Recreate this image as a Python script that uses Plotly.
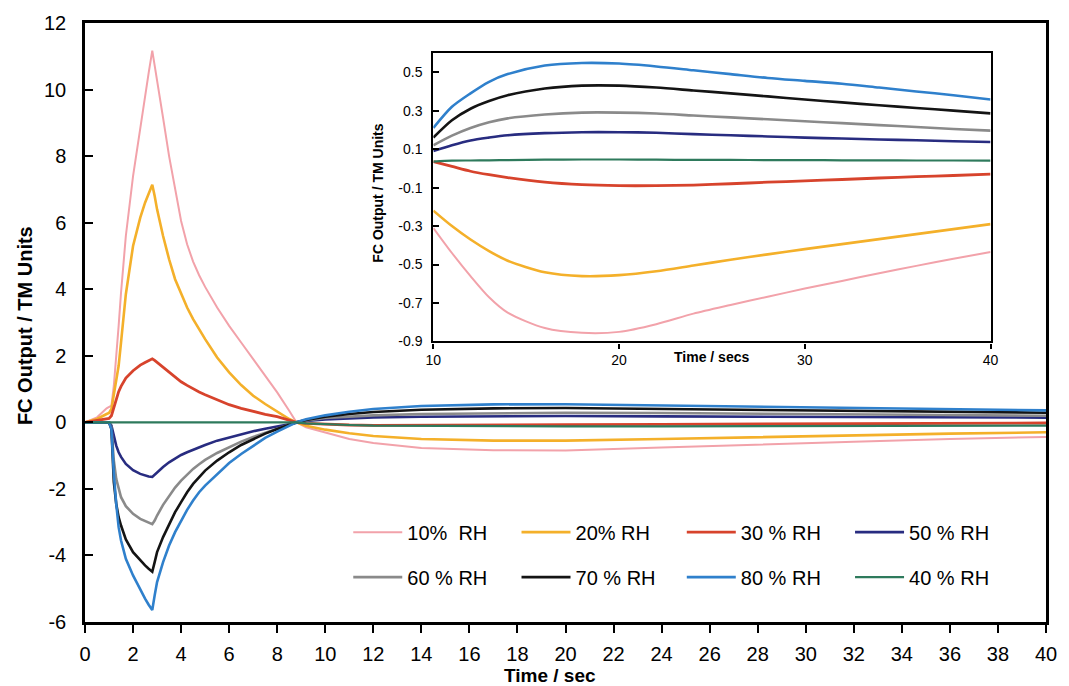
import plotly.graph_objects as go

# ---------------- data ----------------
# main panel: fuel-cell response over the first 40 s
t_main = [0, 0.5, 0.9, 1.0, 1.1, 1.2, 1.3, 1.4, 1.5, 1.7, 2.0, 2.3, 2.5, 2.65,
          2.8, 2.9, 3.0, 3.25, 3.5, 3.75, 4.0, 4.25, 4.5, 4.75, 5.0, 5.5, 6.0, 6.5,
          7.0, 7.5, 8.0, 8.5, 8.8, 9.2, 10, 11, 12, 14, 17, 20, 24, 28, 32, 36, 40]

rh10 = [0, 0.15, 0.42, 0.45, 0.5, 1.1, 1.9, 2.9, 3.9, 5.6, 7.4, 8.9, 9.8, 10.5,
        11.17, 10.75, 10.3, 9.15, 8.0, 7.0, 6.05, 5.35, 4.83, 4.42, 4.07, 3.45, 2.9, 2.4,
        1.9, 1.4, 0.9, 0.35, 0.0, -0.15, -0.31, -0.5, -0.62, -0.77, -0.84, -0.85, -0.76,
        -0.66, -0.58, -0.5, -0.44]
rh20 = [0, 0.1, 0.25, 0.28, 0.4, 0.8, 1.3, 1.7, 2.4, 3.85, 5.3, 6.15, 6.6, 6.88,
        7.14, 6.8, 6.4, 5.6, 4.9, 4.3, 3.85, 3.45, 3.1, 2.78, 2.5, 1.95, 1.5, 1.12,
        0.8, 0.55, 0.32, 0.1, 0.0, -0.1, -0.22, -0.33, -0.41, -0.5, -0.55, -0.55, -0.5,
        -0.44, -0.39, -0.34, -0.3]
rh30 = [0, 0.05, 0.1, 0.12, 0.2, 0.45, 0.7, 0.92, 1.08, 1.33, 1.55, 1.72, 1.8, 1.86,
        1.91, 1.86, 1.8, 1.64, 1.5, 1.35, 1.22, 1.11, 1.0, 0.91, 0.83, 0.67, 0.53, 0.42,
        0.32, 0.24, 0.17, 0.07, 0.0, -0.03, -0.06, -0.08, -0.09, -0.09, -0.08, -0.07, -0.06,
        -0.05, -0.04, -0.03, -0.02]
rh40 = [0, 0, 0, 0, 0, 0, 0, 0, 0, 0, 0, 0, 0, 0,
        0, 0, 0, 0, 0, 0, 0, 0, 0, 0, 0, 0, 0, 0,
        0, 0, 0, 0, 0, -0.03, -0.06, -0.08, -0.1, -0.11, -0.12, -0.12, -0.12,
        -0.12, -0.11, -0.11, -0.1]
rh50 = [0, 0, 0, 0, -0.1, -0.4, -0.7, -0.9, -1.04, -1.25, -1.44, -1.55, -1.6, -1.63,
        -1.64, -1.57, -1.5, -1.34, -1.2, -1.08, -0.98, -0.9, -0.82, -0.75, -0.68, -0.55, -0.45, -0.35,
        -0.27, -0.19, -0.12, -0.04, 0.0, 0.04, 0.09, 0.13, 0.15, 0.17, 0.19, 0.19, 0.18,
        0.17, 0.16, 0.15, 0.14]
rh60 = [0, 0, 0, 0, -0.15, -1.15, -1.7, -2.0, -2.25, -2.52, -2.75, -2.9, -2.97, -3.02,
        -3.06, -2.95, -2.8, -2.48, -2.2, -1.96, -1.75, -1.56, -1.4, -1.26, -1.13, -0.92, -0.74, -0.58,
        -0.44, -0.31, -0.19, -0.07, 0.0, 0.06, 0.13, 0.18, 0.21, 0.25, 0.28, 0.29, 0.28,
        0.26, 0.24, 0.22, 0.2]
rh70 = [0, 0, 0, 0, -0.2, -1.8, -2.45, -2.85, -3.1, -3.52, -3.9, -4.16, -4.3, -4.4,
        -4.49, -4.2, -3.9, -3.45, -3.05, -2.7, -2.4, -2.1, -1.85, -1.64, -1.45, -1.15, -0.9, -0.68,
        -0.5, -0.34, -0.2, -0.07, 0.0, 0.07, 0.17, 0.25, 0.31, 0.38, 0.42, 0.43, 0.4,
        0.37, 0.34, 0.31, 0.29]
rh80 = [0, 0, 0, 0, -0.2, -1.55, -2.45, -3.15, -3.55, -4.1, -4.6, -5.05, -5.3, -5.48,
        -5.64, -5.2, -4.8, -4.2, -3.7, -3.3, -2.95, -2.63, -2.35, -2.1, -1.9, -1.55, -1.22, -0.95,
        -0.71, -0.47, -0.28, -0.1, 0.0, 0.09, 0.21, 0.32, 0.4, 0.49, 0.54, 0.545, 0.51,
        0.47, 0.44, 0.4, 0.36]

# inset: detail of the 10-40 s region
t_inset = [10, 11, 12, 13, 14, 16, 18, 20, 22, 24, 26, 28, 30, 32, 34, 36, 38, 40]
in10 = [-0.31, -0.44, -0.56, -0.67, -0.75, -0.83, -0.855, -0.85, -0.81, -0.755, -0.71,
        -0.667, -0.625, -0.585, -0.545, -0.507, -0.47, -0.435]
in20 = [-0.22, -0.30, -0.37, -0.43, -0.48, -0.54, -0.56, -0.555, -0.535, -0.505, -0.475,
        -0.447, -0.42, -0.394, -0.368, -0.342, -0.316, -0.29]
in30 = [0.035, 0.01, -0.015, -0.033, -0.048, -0.072, -0.085, -0.09, -0.09, -0.087, -0.08,
        -0.072, -0.065, -0.058, -0.05, -0.043, -0.037, -0.03]
in40 = [0.035, 0.04, 0.041, 0.042, 0.043, 0.045, 0.046, 0.046, 0.045, 0.044, 0.044,
        0.043, 0.043, 0.042, 0.042, 0.041, 0.041, 0.04]
in50 = [0.09, 0.12, 0.145, 0.16, 0.172, 0.183, 0.188, 0.188, 0.185, 0.178, 0.172,
        0.166, 0.16, 0.155, 0.15, 0.146, 0.141, 0.137]
in60 = [0.12, 0.17, 0.21, 0.24, 0.26, 0.28, 0.29, 0.29, 0.285, 0.275, 0.265,
        0.255, 0.245, 0.235, 0.225, 0.215, 0.205, 0.196]
in70 = [0.16, 0.25, 0.31, 0.35, 0.38, 0.415, 0.43, 0.43, 0.42, 0.405, 0.39,
        0.374, 0.358, 0.343, 0.328, 0.314, 0.30, 0.286]
in80 = [0.21, 0.32, 0.39, 0.45, 0.49, 0.535, 0.548, 0.545, 0.53, 0.51, 0.49,
        0.47, 0.455, 0.44, 0.42, 0.40, 0.38, 0.358]

labels = ["10%\u00a0 RH", "20% RH", "30 % RH", "50 % RH",
          "60 % RH", "70 % RH", "80 % RH", "40 % RH"]
main_series = [rh10, rh20, rh30, rh50, rh60, rh70, rh80, rh40]
inset_series = [in10, in20, in30, in50, in60, in70, in80, in40]
colors = ["#f2a2aa", "#f4b02a", "#d7432c", "#282c80",
          "#8a8a8a", "#141414", "#2f80cc", "#2e7a5c"]
widths = [2.0, 2.6, 2.8, 2.6, 2.6, 2.6, 2.6, 2.2]

main_yticks = [-6, -4, -2, 0, 2, 4, 6, 8, 10, 12]
main_xticks = list(range(0, 41, 2))
inset_yticks = [-0.9, -0.7, -0.5, -0.3, -0.1, 0.1, 0.3, 0.5]
inset_xticks = [10, 20, 30, 40]

FONT = "Liberation Sans, Arial, sans-serif"

# plot-area geometry in pixels (used to place legend entries)
L, R, T, B = 85, 13, 22, 64
W, H = 1069, 686
PW, PH = W - L - R, H - T - B

def px_to_paper_x(px):
    return (px - L) / PW

def px_to_paper_y(py):
    return (H - B - py) / PH

# legend grid: 4 columns x 2 rows, one legend box per entry
legend_cols_px = [351, 521, 688, 858]
legend_rows_px = [532, 577]

fig = go.Figure()

legend_layout = {}
for i, (name, ys, col, w) in enumerate(zip(labels, main_series, colors, widths)):
    key = "legend" if i == 0 else f"legend{i + 1}"
    fig.add_trace(go.Scatter(
        x=t_main, y=ys, mode="lines", name=name,
        line=dict(color=col, width=w), legend=key,
        xaxis="x", yaxis="y",
    ))
    legend_layout[key] = dict(
        x=px_to_paper_x(legend_cols_px[i % 4]),
        y=px_to_paper_y(legend_rows_px[i // 4]),
        xanchor="left", yanchor="middle", itemwidth=49,
        font=dict(size=20), bgcolor="rgba(0,0,0,0)",
    )

for name, ys, col, w in zip(labels, inset_series, colors, widths):
    fig.add_trace(go.Scatter(
        x=t_inset, y=ys, mode="lines", name=name, showlegend=False,
        line=dict(color=col, width=w, shape="spline", smoothing=0.8),
        xaxis="x2", yaxis="y2",
    ))

axis_common = dict(showgrid=False, zeroline=False, showline=True,
                   linecolor="black", mirror=True, tickcolor="black")

fig.update_layout(
    width=W, height=H,
    margin=dict(l=L, r=R, t=T, b=B),
    paper_bgcolor="white", plot_bgcolor="white",
    font=dict(family=FONT, color="black"),
    xaxis=dict(range=[0, 40], tickvals=main_xticks,
               ticktext=[str(v) for v in main_xticks],
               ticks="outside", ticklen=8, tickwidth=2, linewidth=2.5,
               tickfont=dict(size=20), ticklabelstandoff=4, **axis_common),
    yaxis=dict(range=[-6, 12], tickvals=main_yticks,
               ticktext=[str(v) for v in main_yticks],
               ticks="inside", ticklen=8, tickwidth=2, linewidth=2.5,
               tickfont=dict(size=20), ticklabelstandoff=12, **axis_common),
    xaxis2=dict(domain=[0.3625, 0.9423], anchor="y2", range=[10, 40],
                tickvals=inset_xticks, ticktext=[str(v) for v in inset_xticks],
                ticks="outside", ticklen=5, tickwidth=2, linewidth=2.2,
                tickfont=dict(size=14), **axis_common),
    yaxis2=dict(domain=[0.4683, 0.95], anchor="x2", range=[-0.9, 0.6],
                tickvals=inset_yticks, ticktext=[f"{v:.1f}" for v in inset_yticks],
                ticks="inside", ticklen=6, tickwidth=2, linewidth=2.2,
                tickfont=dict(size=14), ticklabelstandoff=6, **axis_common),
    annotations=[
        dict(text="<b>Time / sec</b>", xref="paper", yref="paper",
             x=0.484, y=px_to_paper_y(676), xanchor="center", yanchor="middle",
             showarrow=False, font=dict(size=19)),
        dict(text="<b>FC Output / TM Units</b>", xref="paper", yref="paper",
             x=px_to_paper_x(25), y=px_to_paper_y(325), xanchor="center",
             yanchor="middle", showarrow=False, textangle=-90, font=dict(size=20)),
        dict(text="<b>Time / secs</b>", xref="paper", yref="paper",
             x=px_to_paper_x(718), y=px_to_paper_y(357), xanchor="center",
             yanchor="middle", showarrow=False, font=dict(size=14)),
        dict(text="<b>FC Output / TM Units</b>", xref="paper", yref="paper",
             x=px_to_paper_x(381), y=px_to_paper_y(192), xanchor="center",
             yanchor="middle", showarrow=False, textangle=-90, font=dict(size=14)),
    ],
    **legend_layout,
)

fig.write_html("out.html")
